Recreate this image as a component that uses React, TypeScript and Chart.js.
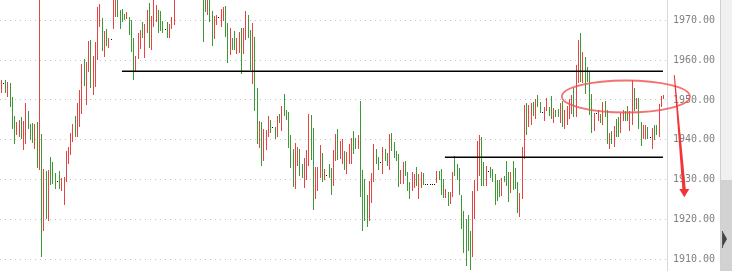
import React, { useEffect, useRef } from 'react';
import { Chart, registerables } from 'chart.js';

Chart.register(...registerables);

// Bar highs / lows (price); direction: r = down, g = up, d = doji
const highs = [
  1955.0,1954.3,1955.0,1954.5,1954.3,1950.8,1946.0,1944.5,1945.0,1945.7,
  1944.7,1949.2,1947.2,1944.0,1944.2,1944.0,1944.5,1980.0,1941.5,1932.7,
  1932.2,1932.4,1935.7,1934.4,1931.7,1929.7,1932.2,1930.4,1930.7,1937.2,
  1938.2,1941.7,1944.0,1946.0,1949.2,1952.5,1959.0,1960.3,1959.5,1964.8,
  1965.1,1961.0,1964.6,1973.3,1974.1,1970.6,1967.3,1967.8,1965.6,1965.3,
  1976.5,1977.0,1976.5,1972.6,1972.8,1971.6,1972.1,1970.8,1970.1,1965.6,
  1961.0,1966.8,1967.6,1969.6,1969.1,1972.6,1974.4,1971.1,1976.0,1973.8,
  1972.6,1972.3,1969.8,1967.8,1969.6,1969.1,1970.8,1976.5,1979.5,1981.0,
  1982.3,1980.8,1983.0,1982.0,1981.5,1980.2,1979.9,1980.5,1979.0,1978.8,
  1976.0,1976.2,1976.0,1975.8,1972.3,1971.1,1971.3,1970.8,1972.8,1973.3,
  1973.6,1969.3,1968.1,1965.6,1967.3,1965.6,1967.1,1968.1,1968.1,1972.3,
  1971.3,1967.6,1969.3,1965.8,1953.0,1944.7,1944.5,1942.7,1942.5,1946.0,
  1945.0,1943.2,1943.2,1946.0,1946.5,1948.5,1951.5,1947.5,1947.0,1941.2,
  1937.7,1939.2,1938.2,1937.7,1933.9,1935.4,1937.4,1946.5,1946.2,1943.0,
  1933.2,1933.2,1938.7,1936.7,1932.7,1931.2,1933.9,1932.9,1937.4,1941.5,
  1942.7,1939.7,1940.2,1937.2,1936.9,1938.9,1940.5,1942.2,1940.5,1941.2,
  1949.8,1932.4,1930.2,1926.2,1929.7,1931.7,1938.9,1937.7,1935.7,1934.4,
  1938.2,1937.7,1936.7,1941.5,1941.7,1939.5,1937.2,1936.4,1932.4,1934.4,
  1934.7,1931.8,1929.5,1931.8,1931.5,1933.2,1931.5,1932.0,1931.7,1928.9,
  1928.9,1928.9,1928.9,1928.9,1932.2,1932.2,1932.7,1930.2,1927.7,1926.9,
  1926.9,1931.9,1936.0,1933.9,1932.9,1926.2,1922.0,1920.0,1921.2,1917.0,
  1927.2,1929.8,1939.8,1941.2,1940.7,1934.4,1933.4,1932.2,1933.2,1932.7,
  1931.3,1929.8,1929.9,1930.4,1930.8,1934.7,1931.8,1931.8,1934.7,1932.8,
  1929.5,1926.7,1938.3,1948.7,1949.2,1948.7,1949.2,1949.5,1950.3,1951.3,
  1949.5,1947.0,1948.2,1950.5,1948.2,1951.0,1948.0,1947.5,1947.7,1949.2,
  1949.7,1947.5,1948.5,1950.3,1951.3,1953.0,1958.8,1965.1,1966.8,1962.1,
  1960.8,1958.3,1957.2,1951.5,1946.7,1946.7,1947.5,1946.6,1949.5,1949.7,
  1947.5,1941.8,1942.1,1943.5,1945.2,1945.6,1946.7,1947.5,1947.2,1948.5,
  1947.2,1955.0,1953.0,1950.5,1950.5,1944.5,1943.8,1943.6,1943.2,1940.6,
  1943.0,1943.7,1943.7,1949.0,1951.0,1951.3,
];

const lows = [
  1951.8,1954.3,1951.7,1950.8,1948.3,1942.8,1939.0,1941.2,1940.8,1940.1,
  1937.5,1939.0,1942.6,1939.9,1939.3,1937.8,1933.0,1932.3,1910.7,1917.2,
  1920.1,1919.7,1928.7,1928.9,1927.7,1929.7,1927.7,1927.2,1923.7,1929.5,
  1933.8,1936.3,1939.5,1940.8,1940.8,1943.1,1946.6,1953.6,1948.8,1957.1,
  1953.1,1951.3,1953.3,1960.1,1968.4,1962.4,1960.9,1963.6,1963.1,1965.3,
  1967.7,1970.9,1970.9,1967.9,1969.7,1970.2,1970.4,1966.4,1962.1,1954.9,
  1957.3,1960.4,1962.9,1965.6,1960.6,1966.7,1963.1,1962.6,1968.4,1969.7,
  1966.7,1967.2,1966.9,1967.8,1965.6,1965.6,1967.9,1968.7,1975.6,1976.2,
  1977.0,1976.5,1977.8,1978.4,1977.2,1976.0,1976.8,1975.9,1976.4,1975.7,
  1964.6,1972.1,1971.4,1969.7,1963.6,1965.4,1968.9,1970.8,1968.4,1969.9,
  1965.9,1959.4,1961.4,1962.6,1962.6,1961.6,1961.9,1956.6,1961.6,1965.1,
  1965.6,1957.6,1953.9,1947.3,1939.0,1938.0,1933.3,1934.8,1937.5,1940.8,
  1941.8,1943.2,1940.3,1940.8,1944.1,1942.3,1946.1,1945.0,1938.0,1932.8,
  1928.2,1927.7,1933.5,1930.8,1930.3,1928.0,1930.0,1933.3,1935.0,1922.5,
  1925.2,1927.2,1930.5,1929.5,1930.0,1931.2,1930.3,1926.2,1928.5,1934.8,
  1935.0,1935.3,1934.0,1932.5,1931.3,1933.8,1934.0,1936.5,1937.8,1937.8,
  1925.7,1917.2,1919.5,1918.0,1919.5,1924.2,1929.5,1934.0,1932.3,1934.4,
  1931.5,1934.8,1933.5,1932.5,1937.3,1935.5,1934.8,1928.2,1929.0,1929.0,
  1931.0,1927.2,1925.2,1927.2,1928.0,1928.5,1925.2,1928.0,1928.7,1928.9,
  1928.9,1928.9,1928.9,1928.9,1929.2,1929.8,1926.2,1925.5,1925.5,1923.5,
  1924.0,1925.7,1930.8,1930.0,1926.2,1917.7,1911.7,1908.4,1912.2,1907.2,
  1910.7,1920.2,1927.2,1930.8,1928.5,1928.5,1928.5,1932.2,1930.5,1929.5,
  1923.7,1924.7,1925.7,1926.0,1929.5,1928.5,1924.5,1926.7,1927.5,1927.7,
  1921.7,1920.7,1925.2,1935.3,1941.3,1943.3,1943.6,1946.1,1945.1,1948.3,
  1946.8,1947.0,1944.6,1947.3,1946.1,1945.3,1944.1,1945.6,1945.6,1944.3,
  1943.3,1942.8,1943.6,1945.3,1946.6,1945.6,1945.6,1954.2,1954.5,1954.2,
  1951.6,1954.6,1946.3,1941.8,1942.2,1946.7,1944.6,1944.3,1943.6,1945.6,
  1939.0,1937.8,1939.0,1938.3,1940.8,1940.8,1941.6,1944.6,1944.8,1944.8,
  1942.1,1943.6,1947.3,1947.8,1942.8,1938.5,1940.3,1940.3,1940.3,1940.6,
  1937.8,1940.0,1941.2,1940.8,1948.3,1950.3,
];

const dirs =
  'rdgrgggrrg' + 'rrgggrgrgr' + 'grgggdgrrr' + 'rrrgrrrgrr' + 'grrrrgrgrd' +
  'rrggggrggg' + 'rrrgrrgrrr' + 'gggdgrrrgr' + 'rgrggrgrgr' + 'ggrggrrdrr' +
  'ggrggrrgrr' + 'ggrggrgrrr' + 'gdgrgrgggg' + 'grrggrrrgg' + 'rrrgrdggrr' +
  'grrgrrrggr' + 'ggggrrrggd' + 'rggrggggrr' + 'gggrrgrrgd' + 'ddddrgggrg' +
  'rrgggggggg' + 'rrrrggrdgg' + 'gggrgggrgg' + 'grrrgrrgrg' + 'gdrrggrggr' +
  'grrrrgrrgr' + 'ggggrdrgrg' + 'grgrggrrgg' + 'rrgrggrrgd' + 'rggrrr';

const tickValues = [1910, 1920, 1930, 1940, 1950, 1960, 1970];
const yMin = 1907.06;
const yMax = 1975.1;

// Hand-drawn annotations, in data units (bar index, price)
const hLines = [
  { from: 53.8, to: 294.7, value: 1957.28 },
  { from: 197.6, to: 294.7, value: 1935.69 },
];
const ellipseNote = { cx: 278.2, cy: 1950.87, rx: 28.5, ry: 4.02 };
const arrowNote = {
  x1: 299.75, y1: 1956.27, x2: 304.1, y2: 1927.6,
  headL: 301.97, headR: 306.42, headY: 1927.65, tipX: 304.2, tipY: 1925.57,
};

const colorMap: Record<string, string> = { r: '#e84343', g: '#3b9a33', d: '#111111' };

const snapPlugin = {
  id: 'snapBars',
  beforeDatasetsDraw(chart: any) {
    const meta = chart.getDatasetMeta(0);
    meta.data.forEach((el: any) => {
      el.x = Math.floor(el.x) + 0.5;
      el.width = 1;
      const top = Math.round(Math.min(el.y, el.base));
      let bot = Math.round(Math.max(el.y, el.base));
      if (bot - top < 1) bot = top + 1;
      el.y = top;
      el.base = bot;
    });
  },
};

const annoPlugin = {
  id: 'annotations',
  afterDraw(chart: any) {
    const { ctx } = chart;
    const xs = chart.scales.x;
    const ys = chart.scales.y;
    ctx.save();
    // horizontal support/resistance lines
    ctx.strokeStyle = '#000';
    ctx.lineWidth = 1.5;
    hLines.forEach((l) => {
      const py = Math.round(ys.getPixelForValue(l.value)) + 0.25;
      ctx.beginPath();
      ctx.moveTo(xs.getPixelForValue(l.from), py);
      ctx.lineTo(xs.getPixelForValue(l.to), py);
      ctx.stroke();
    });
    // ellipse
    const cx = xs.getPixelForValue(ellipseNote.cx);
    const cy = ys.getPixelForValue(ellipseNote.cy);
    const rx = xs.getPixelForValue(ellipseNote.cx + ellipseNote.rx) - cx;
    const ry = ys.getPixelForValue(ellipseNote.cy - ellipseNote.ry) - cy;
    ctx.strokeStyle = 'rgba(238,80,80,0.8)';
    ctx.lineWidth = 1.8;
    ctx.beginPath();
    ctx.ellipse(cx, cy, rx, ry, 0, 0, Math.PI * 2);
    ctx.stroke();
    // arrow (tapered stroke + head)
    const ax1 = xs.getPixelForValue(arrowNote.x1);
    const ay1 = ys.getPixelForValue(arrowNote.y1);
    const ax2 = xs.getPixelForValue(arrowNote.x2);
    const ay2 = ys.getPixelForValue(arrowNote.y2);
    const dx = ax2 - ax1, dy = ay2 - ay1;
    const len = Math.hypot(dx, dy);
    const nx = -dy / len, ny = dx / len;
    ctx.fillStyle = '#f23434';
    ctx.beginPath();
    ctx.moveTo(ax1 + nx * 0.5, ay1 + ny * 0.5);
    ctx.lineTo(ax2 + nx * 1.7, ay2 + ny * 1.7);
    ctx.lineTo(ax2 - nx * 1.7, ay2 - ny * 1.7);
    ctx.lineTo(ax1 - nx * 0.5, ay1 - ny * 0.5);
    ctx.closePath();
    ctx.fill();
    ctx.beginPath();
    ctx.moveTo(xs.getPixelForValue(arrowNote.headL), ys.getPixelForValue(arrowNote.headY));
    ctx.lineTo(xs.getPixelForValue(arrowNote.headR), ys.getPixelForValue(arrowNote.headY));
    ctx.lineTo(xs.getPixelForValue(arrowNote.tipX), ys.getPixelForValue(arrowNote.tipY));
    ctx.closePath();
    ctx.fill();
    ctx.restore();
  },
};

export default function App() {
  const canvasRef = useRef<HTMLCanvasElement | null>(null);

  useEffect(() => {
    document.body.style.margin = '0';
    const canvas = canvasRef.current;
    if (!canvas) return;
    const labels = [...highs.map((_, i) => String(i)), String(highs.length)];
    const chart = new Chart(canvas, {
      type: 'bar',
      data: {
        labels,
        datasets: [
          {
            data: lows.map((l, i) => [l, highs[i]]) as any,
            backgroundColor: dirs.split('').map((c) => colorMap[c]),
            barThickness: 1,
            borderWidth: 0,
            inflateAmount: 0,
            borderSkipped: false,
          } as any,
        ],
      },
      options: {
        responsive: false,
        maintainAspectRatio: false,
        animation: false,
        events: [],
        layout: { padding: 0 },
        plugins: { legend: { display: false }, tooltip: { enabled: false } },
        scales: {
          x: { display: false, offset: true },
          y: {
            position: 'right',
            min: yMin,
            max: yMax,
            afterFit: (s: any) => {
              s.width = 65;
              s.paddingTop = 0;
              s.paddingBottom = 0;
            },
            afterBuildTicks: (s: any) => { s.ticks = tickValues.map((v) => ({ value: v })); },
            grid: { color: '#c4c4c4', drawTicks: false, lineWidth: 1 },
            border: { display: true, color: '#d9d9d9', dash: [1, 4] },
            ticks: {
              padding: 6,
              color: '#808080',
              font: { family: 'DejaVu Sans Mono', size: 10 },
              callback: (v: any) => Number(v).toFixed(2),
            },
          } as any,
        },
      },
      plugins: [snapPlugin, annoPlugin],
    });
    return () => chart.destroy();
  }, []);

  return (
    <div style={{ position: 'relative', width: 732, height: 271, overflow: 'hidden', background: '#fff' }}>
      <canvas ref={canvasRef} width={732} height={271} style={{ display: 'block' }} />
      <div style={{ position: 'absolute', left: 720, top: 0, width: 1, height: 271, background: '#d0d0d0' }} />
      <div style={{ position: 'absolute', left: 721, top: 0, width: 11, height: 180, background: '#f0f0f0' }} />
      <div style={{ position: 'absolute', left: 721, top: 180, width: 11, height: 91, background: '#d2d2d2' }} />
      <div style={{ position: 'absolute', left: 722, top: 231, width: 1, height: 17, background: '#555' }} />
      <div
        style={{
          position: 'absolute', left: 723, top: 232, width: 0, height: 0,
          borderTop: '7px solid transparent', borderBottom: '7px solid transparent', borderLeft: '4px solid #444',
        }}
      />
    </div>
  );
}
